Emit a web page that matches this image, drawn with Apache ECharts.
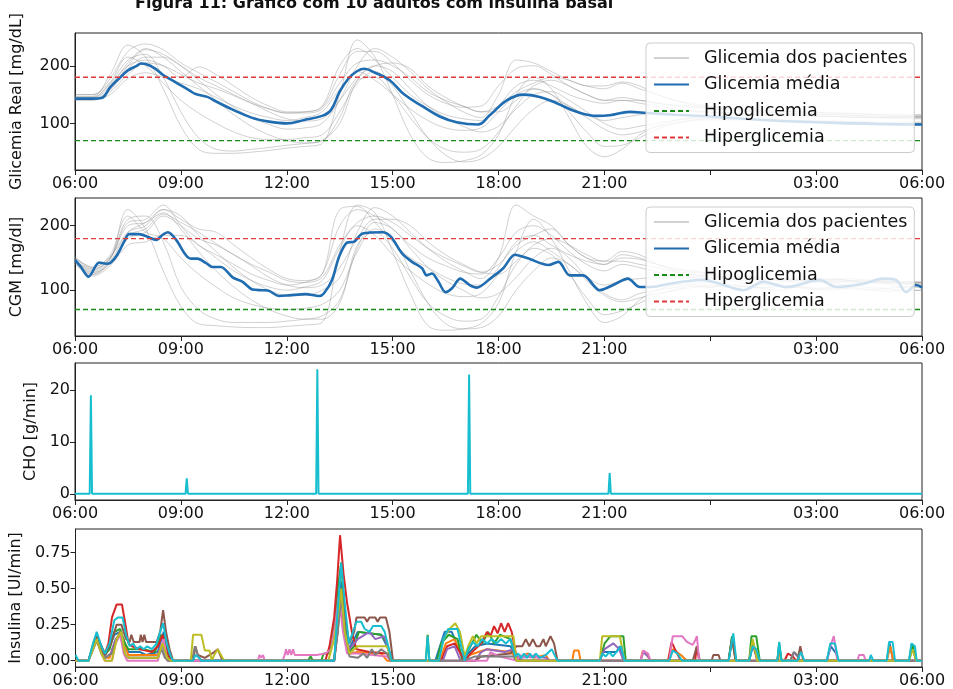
<!DOCTYPE html>
<html><head><meta charset="utf-8">
<script src="https://cdn.jsdelivr.net/npm/echarts@6/dist/echarts.min.js"></script>
<style>html,body{margin:0;padding:0;background:#fff}#c{width:953px;height:689px}</style>
</head><body><div id="c"></div>
<script>
// ---------- DATA ----------
const titleText = 'Figura 11: Gráfico com 10 adultos com insulina basal';
const xTickLabels = ['06:00','09:00','12:00','15:00','18:00','21:00','','03:00','06:00'];
const tGrid = [0,30,60,90,120,150,180,210,240,270,300,330,360,390,420,450,480,510,540,570,600,630,660,690,720,750,780,810,840,870,900,930,960,990,1020,1050,1080,1110,1140,1170,1200,1230,1260,1290,1320,1350,1380,1410,1440];

// Panel 1: Glicemia Real (mg/dL) per patient, sampled every 30 min from 06:00
const real1 = [150,150,178,225,238,228,205,188,172,155,138,125,118,120,128,185,225,225,205,175,150,135,128,130,165,195,200,185,165,150,140,145,140,135,132,130,128,126,124,122,121,120,119,118,117,116,115,114,114];
const real2 = [147,147,185,236,215,160,95,55,48,48,50,53,57,60,65,150,245,215,150,80,40,32,35,45,80,150,180,160,110,60,42,55,80,95,105,110,112,113,114,114,113,113,112,112,111,111,110,110,110];
const real3 = [143,143,160,200,228,220,200,175,150,128,110,98,90,92,100,140,200,230,215,190,160,138,120,110,150,210,205,190,175,165,160,170,160,150,140,132,128,125,122,120,118,117,116,115,114,113,112,112,112];
const real4 = [140,140,155,185,205,200,185,170,160,148,135,125,118,118,125,170,205,210,200,180,155,140,130,120,130,155,170,180,175,165,165,172,165,150,140,135,130,127,125,123,121,120,119,118,117,116,115,115,115];
const real5 = [145,145,170,210,220,180,120,75,55,52,55,58,62,65,70,100,175,200,190,160,130,110,95,85,95,125,150,155,140,120,100,90,95,100,105,108,108,108,107,106,105,105,104,104,103,103,102,102,102];
const real6 = [141,141,158,195,215,215,200,180,165,150,135,120,108,104,108,140,180,200,205,195,165,145,130,120,120,140,165,175,165,150,140,140,135,130,125,122,120,118,117,116,115,114,113,112,111,110,110,110,110];
const real7 = [150,150,172,215,200,170,140,118,100,85,75,72,72,75,80,120,170,190,165,120,75,45,33,38,60,95,125,140,130,110,90,80,85,95,100,105,106,106,106,105,104,103,102,101,100,100,99,99,99];
const real8 = [144,144,165,205,230,215,190,165,140,115,95,80,70,66,70,110,175,180,150,110,75,55,50,55,85,130,160,150,120,85,60,62,75,90,100,106,108,108,108,107,106,105,104,103,102,101,100,100,100];
const real9 = [146,146,168,200,210,200,180,198,185,165,145,130,120,120,130,200,230,210,180,150,130,115,108,105,130,165,175,165,150,140,135,140,140,135,130,128,125,123,121,119,118,117,116,115,114,113,112,112,112];
const real10 = [142,142,150,178,188,180,170,160,145,130,118,110,105,110,120,160,190,175,150,125,105,92,88,92,120,150,160,150,130,115,105,110,115,118,120,120,119,118,117,116,115,114,113,112,111,110,109,108,108];
const realMean = [[0,143],[30,143],[45,144],[60,163],[75,178],[90,192],[105,200],[112,204],[120,203],[135,196],[150,184],[165,175],[180,166],[195,157],[205,151],[225,146],[240,138],[270,123],[300,110],[330,103],[360,100],[390,106],[420,113],[435,123],[450,155],[465,178],[480,191],[492,195],[510,188],[535,175],[560,150],[592,129],[620,112],[649,102],[685,98],[705,114],[734,140],[762,150],[790,146],[819,135],[853,120],[887,113],[909,114],[943,120],[972,118],[1020,115],[1080,112],[1200,104],[1320,100],[1440,98]];

// Panel 2: CGM (mg/dl) per patient, sampled every 30 min
const cgm1 = [150,133,150,205,210,232,200,170,155,140,125,115,108,112,125,200,225,215,195,170,150,138,128,125,150,190,200,185,160,140,130,140,135,128,122,120,125,118,115,120,117,112,116,118,114,112,115,110,112];
const cgm2 = [148,128,148,225,195,130,75,48,45,43,42,42,44,46,50,160,232,220,160,95,45,38,40,48,80,160,210,180,130,80,50,60,85,100,108,110,112,115,110,108,112,115,112,110,108,112,110,105,108];
const cgm3 = [145,125,145,190,205,225,215,185,160,135,115,100,92,92,100,120,190,228,215,190,165,145,130,118,150,232,215,200,170,150,140,155,150,140,130,125,120,122,118,115,118,116,114,117,115,112,114,110,110];
const cgm4 = [142,124,142,180,190,215,200,180,170,155,140,128,115,112,120,170,205,215,205,185,165,150,138,128,140,170,185,195,170,150,145,160,155,140,132,128,125,120,122,118,116,118,115,113,115,116,112,113,112];
const cgm5 = [146,130,150,210,215,175,105,70,55,50,50,50,52,55,60,85,165,205,195,165,135,115,100,88,95,120,150,165,150,120,95,85,95,100,104,108,105,110,106,104,108,106,103,105,107,104,103,105,104];
const cgm6 = [144,127,142,185,195,218,205,190,172,155,138,120,108,104,108,135,180,210,210,200,175,155,140,128,125,145,170,180,170,155,145,145,140,135,128,124,122,118,120,117,115,116,114,112,115,113,111,112,112];
const cgm7 = [152,135,155,215,190,180,150,125,105,88,78,72,70,72,78,100,160,195,180,130,80,48,40,42,60,100,130,150,140,115,92,82,88,95,100,104,108,104,106,103,100,105,102,100,104,101,98,100,100];
const cgm8 = [147,132,150,200,205,220,195,160,130,105,85,70,60,55,55,80,170,190,165,120,80,60,52,55,90,140,165,155,125,88,62,68,80,92,100,106,104,108,105,103,106,104,101,103,102,100,102,99,100];
const cgm9 = [150,136,152,190,200,225,210,195,190,170,150,132,118,115,125,225,230,205,175,150,135,120,110,108,135,175,185,170,155,145,140,150,148,140,134,130,126,124,122,120,118,121,118,116,118,115,114,113,113];
const cgm10 = [141,122,138,170,175,185,185,170,150,130,115,105,100,105,115,165,200,185,155,130,110,95,90,95,125,160,175,160,140,120,108,115,118,120,122,120,118,121,117,116,118,115,113,115,112,111,112,110,108];
const cgmMean = [[0,147],[10,136],[23,121],[41,143],[53,141],[61,143],[72,155],[84,176],[92,187],[109,187],[123,183],[138,178],[149,186],[158,190],[172,178],[188,155],[197,149],[208,149],[223,142],[234,136],[248,136],[268,120],[285,113],[302,101],[319,100],[330,99],[347,91],[364,92],[392,94],[415,91],[423,95],[437,116],[449,152],[463,174],[474,175],[489,188],[523,190],[537,183],[556,157],[573,144],[590,134],[598,123],[607,126],[618,113],[630,97],[641,103],[655,118],[671,108],[683,104],[706,118],[728,134],[748,155],[771,149],[805,139],[822,144],[841,123],[864,123],[892,100],[915,108],[940,118],[960,105],[980,105],[1011,110],[1040,114],[1068,116],[1096,110],[1136,100],[1170,113],[1210,105],[1266,116],[1294,105],[1340,110],[1374,118],[1396,116],[1413,97],[1430,108],[1440,104]];

// Thresholds (mg/dL)
const hypo = 70;
const hyper = 180;

// Panel 3: CHO (g/min)
const cho = [[0,0],[25,0],[27,19],[29,0],[188,0],[190,3],[192,0],[410,0],[412,24],[414,0],[668,0],[670,23],[672,0],[907,0],[909,4],[911,0],[1440,0]];

// Panel 4: Insulina (UI/min) per patient  [minute from 06:00, UI/min]
const ins1 = [[0,0],[22,0],[30,0.1],[36,0.18],[44,0.1],[50,0.04],[56,0.08],[66,0.18],[76,0.2],[84,0.12],[90,0.06],[110,0.06],[120,0.04],[140,0.06],[146,0.15],[150,0.2],[156,0.08],[164,0],[440,0],[446,0.3],[451,0.55],[458,0.25],[465,0.08],[474,0.15],[480,0.2],[520,0.18],[530,0.1],[538,0],[612,0],[620,0.1],[628,0.2],[640,0.2],[650,0.1],[660,0],[668,0.05],[680,0.1],[700,0.12],[740,0.1],[750,0.03],[760,0],[892,0],[897,0.06],[920,0.06],[926,0.1],[932,0.03],[936,0],[1111,0],[1117,0.17],[1124,0],[1146,0],[1152,0.1],[1160,0.05],[1164,0],[1194,0],[1197,0.1],[1201,0],[1278,0],[1285,0.1],[1294,0.05],[1298,0],[1380,0],[1385,0.12],[1391,0],[1418,0],[1424,0.1],[1430,0],[1440,0]];
const ins2 = [[0,0],[22,0],[30,0.1],[36,0.16],[44,0.08],[50,0.02],[58,0.02],[66,0.12],[76,0.2],[84,0.1],[90,0.04],[140,0.04],[146,0.1],[152,0.12],[158,0],[440,0],[446,0.25],[451,0.5],[458,0.2],[466,0.05],[480,0.06],[520,0.05],[530,0],[620,0],[630,0.12],[645,0.15],[655,0.05],[662,0],[670,0.04],[700,0.08],[740,0.06],[750,0.02],[770,0.05],[780,0.02],[800,0.04],[806,0],[845,0],[848,0.07],[856,0.07],[859,0],[961,0],[965,0.07],[972,0.04],[978,0],[1010,0],[1016,0.08],[1030,0.04],[1040,0],[1111,0],[1117,0.16],[1123,0],[1194,0],[1197,0.08],[1200,0],[1380,0],[1386,0.1],[1391,0],[1440,0]];
const ins3 = [[0,0],[22,0],[30,0.12],[36,0.18],[44,0.1],[50,0.04],[58,0.08],[66,0.2],[76,0.22],[84,0.12],[90,0.08],[115,0.08],[135,0.06],[146,0.18],[152,0.15],[158,0.02],[164,0],[395,0],[400,0.03],[404,0],[418,0],[422,0.05],[430,0.05],[436,0.12],[442,0.3],[446,0.5],[452,0.68],[458,0.3],[465,0.06],[474,0.1],[482,0.2],[520,0.18],[530,0.12],[538,0],[596,0],[599,0.18],[602,0],[615,0],[622,0.12],[635,0.18],[650,0.15],[658,0],[672,0.1],[682,0.18],[692,0.12],[702,0.2],[712,0.12],[722,0.18],[740,0.15],[748,0.03],[752,0],[892,0],[900,0.12],[910,0.17],[932,0.17],[936,0],[1111,0],[1117,0.17],[1123,0],[1146,0],[1150,0.17],[1158,0.17],[1164,0],[1194,0],[1197,0.12],[1201,0],[1418,0],[1423,0.12],[1430,0],[1440,0]];
const ins4 = [[0,0],[22,0],[30,0.1],[36,0.18],[44,0.1],[50,0.05],[56,0.12],[62,0.3],[70,0.39],[79,0.39],[85,0.25],[90,0.12],[96,0.1],[110,0.08],[130,0.06],[140,0.1],[148,0.18],[156,0.05],[164,0],[425,0],[432,0.1],[440,0.3],[445,0.55],[450,0.87],[456,0.6],[462,0.4],[471,0.18],[478,0.08],[500,0.06],[530,0.05],[538,0],[622,0],[632,0.1],[645,0.12],[655,0.05],[662,0],[672,0.05],[690,0.12],[700,0.2],[706,0.17],[712,0.24],[718,0.19],[724,0.26],[730,0.2],[736,0.26],[742,0.2],[750,0.03],[756,0],[1008,0],[1014,0.13],[1022,0.06],[1030,0],[1054,0],[1057,0.1],[1061,0],[1206,0],[1212,0.05],[1220,0.03],[1226,0],[1440,0]];
const ins5 = [[0,0],[22,0],[30,0.1],[36,0.15],[44,0.06],[50,0.02],[60,0.05],[68,0.15],[76,0.18],[84,0.05],[90,0.02],[140,0.02],[146,0.12],[154,0.03],[160,0],[440,0],[446,0.25],[451,0.5],[458,0.2],[466,0.08],[480,0.15],[500,0.2],[510,0.15],[525,0.17],[535,0.05],[540,0],[625,0],[632,0.08],[645,0.1],[655,0],[680,0],[690,0.06],[700,0.08],[730,0.06],[745,0.08],[752,0.02],[780,0.03],[800,0.02],[806,0],[892,0],[900,0.08],[915,0.12],[925,0.08],[932,0],[961,0],[966,0.06],[974,0.03],[978,0],[1146,0],[1152,0.12],[1160,0],[1216,0],[1222,0.06],[1228,0.03],[1232,0],[1440,0]];
const ins6 = [[0,0],[22,0],[30,0.1],[36,0.17],[44,0.08],[50,0.04],[60,0.12],[70,0.25],[78,0.25],[86,0.15],[92,0.13],[95,0.18],[99,0.13],[109,0.13],[111,0.18],[114,0.13],[117,0.18],[120,0.13],[138,0.13],[144,0.2],[149,0.35],[154,0.2],[160,0.08],[166,0],[200,0],[204,0.1],[208,0.04],[220,0.02],[236,0.06],[242,0.08],[250,0],[440,0],[446,0.2],[452,0.5],[458,0.3],[466,0.12],[474,0.2],[478,0.3],[492,0.3],[496,0.27],[500,0.3],[510,0.3],[514,0.27],[518,0.3],[528,0.3],[534,0.2],[540,0],[680,0],[690,0.03],[740,0.05],[750,0.1],[760,0.1],[766,0.15],[772,0.1],[778,0.15],[784,0.1],[790,0.1],[796,0.15],[800,0.1],[808,0.17],[814,0.12],[820,0],[1050,0],[1057,0.1],[1062,0],[1082,0],[1085,0.04],[1094,0.04],[1097,0],[1111,0],[1117,0.15],[1123,0],[1146,0],[1152,0.13],[1160,0],[1228,0],[1233,0.1],[1238,0],[1440,0]];
const ins7 = [[0,0],[22,0],[30,0.08],[36,0.14],[44,0.05],[50,0],[62,0],[68,0.12],[76,0.18],[82,0.05],[88,0],[140,0],[146,0.1],[150,0.15],[156,0],[310,0],[313,0.04],[316,0.02],[319,0.04],[322,0],[352,0],[356,0.04],[358,0.08],[361,0.04],[364,0.08],[367,0.04],[370,0.08],[373,0.04],[410,0.04],[425,0.05],[435,0.08],[442,0.25],[448,0.45],[455,0.2],[462,0.05],[480,0.05],[530,0.03],[536,0],[700,0],[706,0.06],[720,0.03],[752,0],[756,0.04],[762,0.02],[768,0.04],[774,0.02],[780,0.04],[786,0.02],[792,0],[961,0],[966,0.07],[974,0.05],[978,0],[1010,0],[1016,0.17],[1032,0.17],[1040,0.13],[1050,0.11],[1054,0.14],[1057,0.17],[1061,0],[1278,0],[1284,0.1],[1290,0.17],[1296,0],[1330,0],[1333,0.04],[1341,0.04],[1344,0],[1440,0]];
const ins8 = [[0,0],[22,0],[30,0.08],[36,0.14],[44,0.05],[50,0.02],[62,0.05],[70,0.15],[78,0.2],[84,0.05],[90,0.02],[140,0.02],[146,0.08],[152,0.02],[158,0],[198,0],[203,0.1],[208,0.04],[214,0],[440,0],[446,0.2],[452,0.45],[458,0.2],[466,0.03],[480,0.02],[490,0.05],[496,0.02],[504,0.08],[510,0.04],[520,0.08],[530,0.05],[536,0],[660,0],[680,0.03],[745,0.03],[750,0],[1216,0],[1222,0.06],[1228,0.04],[1232,0],[1440,0]];
const ins9 = [[0,0],[22,0],[30,0.08],[36,0.15],[44,0.05],[50,0],[62,0],[70,0.15],[78,0.2],[84,0.05],[90,0.02],[140,0.02],[148,0.12],[156,0.02],[162,0],[196,0],[200,0.18],[214,0.18],[220,0.07],[228,0.07],[232,0],[236,0.04],[242,0.08],[250,0.02],[254,0],[430,0],[440,0.15],[446,0.3],[452,0.5],[458,0.2],[466,0.05],[480,0.1],[530,0.1],[538,0],[618,0],[626,0.15],[636,0.22],[646,0.26],[654,0.2],[662,0.03],[668,0.1],[676,0.17],[682,0.12],[690,0.17],[745,0.17],[750,0],[892,0],[896,0.17],[926,0.17],[934,0],[1146,0],[1152,0.15],[1160,0],[1418,0],[1424,0.08],[1430,0],[1440,0]];
const ins10 = [[0,0.04],[3,0.04],[5,0],[22,0],[30,0.12],[36,0.2],[44,0.1],[50,0.05],[58,0.12],[66,0.28],[72,0.3],[80,0.3],[86,0.18],[92,0.1],[98,0.12],[104,0.08],[110,0.1],[116,0.08],[122,0.1],[130,0.08],[138,0.12],[144,0.2],[149,0.26],[155,0.12],[162,0.03],[166,0],[200,0],[204,0.04],[210,0.02],[214,0],[440,0],[446,0.35],[452,0.68],[458,0.4],[465,0.12],[472,0.2],[478,0.27],[486,0.27],[492,0.22],[500,0.2],[506,0.24],[520,0.24],[526,0.2],[532,0.1],[538,0],[596,0],[599,0.17],[602,0],[618,0],[626,0.15],[634,0.22],[650,0.22],[656,0.1],[662,0],[668,0.08],[676,0.13],[684,0.1],[692,0.15],[700,0.12],[708,0.15],[716,0.12],[724,0.15],[732,0.12],[740,0.15],[748,0.03],[753,0.05],[758,0.02],[763,0.05],[768,0.02],[773,0.05],[778,0.02],[783,0.05],[790,0.02],[800,0.04],[810,0.08],[816,0.03],[820,0],[892,0],[896,0.05],[902,0.03],[908,0.06],[914,0.03],[920,0.06],[928,0.1],[934,0],[1010,0],[1016,0.07],[1024,0.05],[1032,0],[1111,0],[1119,0.19],[1124,0],[1146,0],[1152,0.1],[1158,0.08],[1164,0],[1194,0],[1197,0.13],[1201,0],[1228,0],[1234,0.06],[1240,0],[1278,0],[1284,0.12],[1292,0.12],[1298,0],[1350,0],[1353,0.04],[1357,0],[1380,0],[1384,0.13],[1390,0.13],[1394,0],[1418,0],[1422,0.12],[1428,0.1],[1431,0],[1440,0]];

// ---------- CHART ----------
const FONT = 'DejaVu Sans';
const insColors = ['#1f77b4','#ff7f0e','#2ca02c','#d62728','#9467bd','#8c564b','#e377c2','#7f7f7f','#bcbd22','#17becf'];
const grids = [
  {left:75, right:31, top:33, height:137},
  {left:75, right:31, top:198, height:138},
  {left:75, right:31, top:363, height:137},
  {left:75, right:31, top:529, height:138}
];
function xAxis(i){
  return {type:'value', gridIndex:i, min:0, max:1440, interval:180,
    axisLine:{show:true, onZero:false, lineStyle:{color:'#222', width:1}},
    axisTick:{show:true, inside:false, length:5, lineStyle:{color:'#222'}},
    axisLabel:{margin:6, fontSize:16, color:'#111', fontFamily:FONT,
      formatter:function(v){ return xTickLabels[Math.round(v/180)]; }},
    splitLine:{show:false}};
}
function yAxis(i, min, max, ticks, name, gap, fmt){
  return {type:'value', gridIndex:i, min:min, max:max,
    name:name, nameLocation:'middle', nameGap:gap, nameRotate:90,
    nameTextStyle:{fontSize:16, color:'#111', fontFamily:FONT},
    axisLine:{show:true, onZero:false, lineStyle:{color:'#222', width:1}},
    axisTick:{show:true, inside:false, length:5, customValues:ticks, lineStyle:{color:'#222'}},
    axisLabel:{margin:5, fontSize:16, color:'#111', fontFamily:FONT, customValues:ticks,
      formatter: fmt || function(v){return String(v);}},
    splitLine:{show:false}};
}
const pair = arr => arr.map((v,i)=>[tGrid[i], v]);
const series = [];
const grayStyle = {color:'rgba(140,140,140,0.4)', width:1};
[real1,real2,real3,real4,real5,real6,real7,real8,real9,real10].forEach(a=>{
  series.push({name:'Glicemia dos pacientes', type:'line', xAxisIndex:0, yAxisIndex:0, data:pair(a), smooth:0.35, showSymbol:false, symbol:'none', lineStyle:grayStyle, itemStyle:{color:'#c8c8c8'}, z:2});
});
series.push({name:'Glicemia média', type:'line', xAxisIndex:0, yAxisIndex:0, data:realMean, smooth:0.4, symbol:'none', lineStyle:{color:'#1f6cb0', width:2.6}, itemStyle:{color:'#1f6cb0'}, z:3});
series.push({name:'Hipoglicemia', type:'line', xAxisIndex:0, yAxisIndex:0, data:[[0,hypo],[1440,hypo]], symbol:'none', lineStyle:{color:'#1a8a1a', width:1.4, type:[5,3]}, itemStyle:{color:'#1a8a1a'}, z:3});
series.push({name:'Hiperglicemia', type:'line', xAxisIndex:0, yAxisIndex:0, data:[[0,hyper],[1440,hyper]], symbol:'none', lineStyle:{color:'#e0393b', width:1.4, type:[5,3]}, itemStyle:{color:'#e0393b'}, z:3});
[cgm1,cgm2,cgm3,cgm4,cgm5,cgm6,cgm7,cgm8,cgm9,cgm10].forEach(a=>{
  series.push({name:'Glicemia dos pacientes', type:'line', xAxisIndex:1, yAxisIndex:1, data:pair(a), smooth:0.35, symbol:'none', lineStyle:grayStyle, itemStyle:{color:'#c8c8c8'}, z:2});
});
series.push({name:'Glicemia média', type:'line', xAxisIndex:1, yAxisIndex:1, data:cgmMean, smooth:0.3, symbol:'none', lineStyle:{color:'#1f6cb0', width:2.6}, itemStyle:{color:'#1f6cb0'}, z:3});
series.push({name:'Hipoglicemia', type:'line', xAxisIndex:1, yAxisIndex:1, data:[[0,hypo],[1440,hypo]], symbol:'none', lineStyle:{color:'#1a8a1a', width:1.4, type:[5,3]}, z:3});
series.push({name:'Hiperglicemia', type:'line', xAxisIndex:1, yAxisIndex:1, data:[[0,hyper],[1440,hyper]], symbol:'none', lineStyle:{color:'#e0393b', width:1.4, type:[5,3]}, z:3});
series.push({name:'CHO', type:'line', xAxisIndex:2, yAxisIndex:2, data:cho, symbol:'none', lineStyle:{color:'#17becf', width:2}, z:3});
[ins1,ins2,ins3,ins4,ins5,ins6,ins7,ins8,ins9,ins10].forEach((a,i)=>{
  series.push({name:'ins'+(i+1), type:'line', xAxisIndex:3, yAxisIndex:3, data:a, symbol:'none', lineStyle:{color:insColors[i], width:2}, z:3+i*0.01});
});
const legendBase = {orient:'vertical', left:646, itemWidth:35, itemHeight:18, itemGap:8.5,
  padding:[6,7,6,7], backgroundColor:'rgba(255,255,255,0.8)', borderColor:'#cccccc', borderWidth:1, borderRadius:4,
  itemStyle:{opacity:0},
  textStyle:{fontSize:17.5, color:'#111', fontFamily:FONT, padding:[0,0,0,10], lineHeight:18},
  data:['Glicemia dos pacientes','Glicemia média','Hipoglicemia','Hiperglicemia'], selectedMode:false, z:20};
const option = {
  animation:false,
  backgroundColor:'#fff',
  title:{text:titleText, left:130, top:-9, textStyle:{fontSize:16, fontWeight:'bold', color:'#111', fontFamily:FONT}},
  grid: grids.map(g=>Object.assign({show:true, borderColor:'#222', borderWidth:1, backgroundColor:'transparent'}, g)),
  xAxis:[xAxis(0),xAxis(1),xAxis(2),xAxis(3)],
  yAxis:[
    yAxis(0, 19, 257, [100,200], 'Glicemia Real [mg/dL]', 50),
    yAxis(1, 29, 243, [100,200], 'CGM [mg/dl]', 50),
    yAxis(2, -1.2, 25.2, [0,10,20], 'CHO [g/min]', 32),
    yAxis(3, -0.0435, 0.913, [0,0.25,0.5,0.75], 'Insulina [UI/min]', 50, v=>v.toFixed(2))
  ],
  legend:[Object.assign({top:43}, legendBase), Object.assign({top:207}, legendBase)],
  series:series
};
const chart = echarts.init(document.getElementById('c'), null, {renderer:'canvas'});
chart.setOption(option);
</script></body></html>
